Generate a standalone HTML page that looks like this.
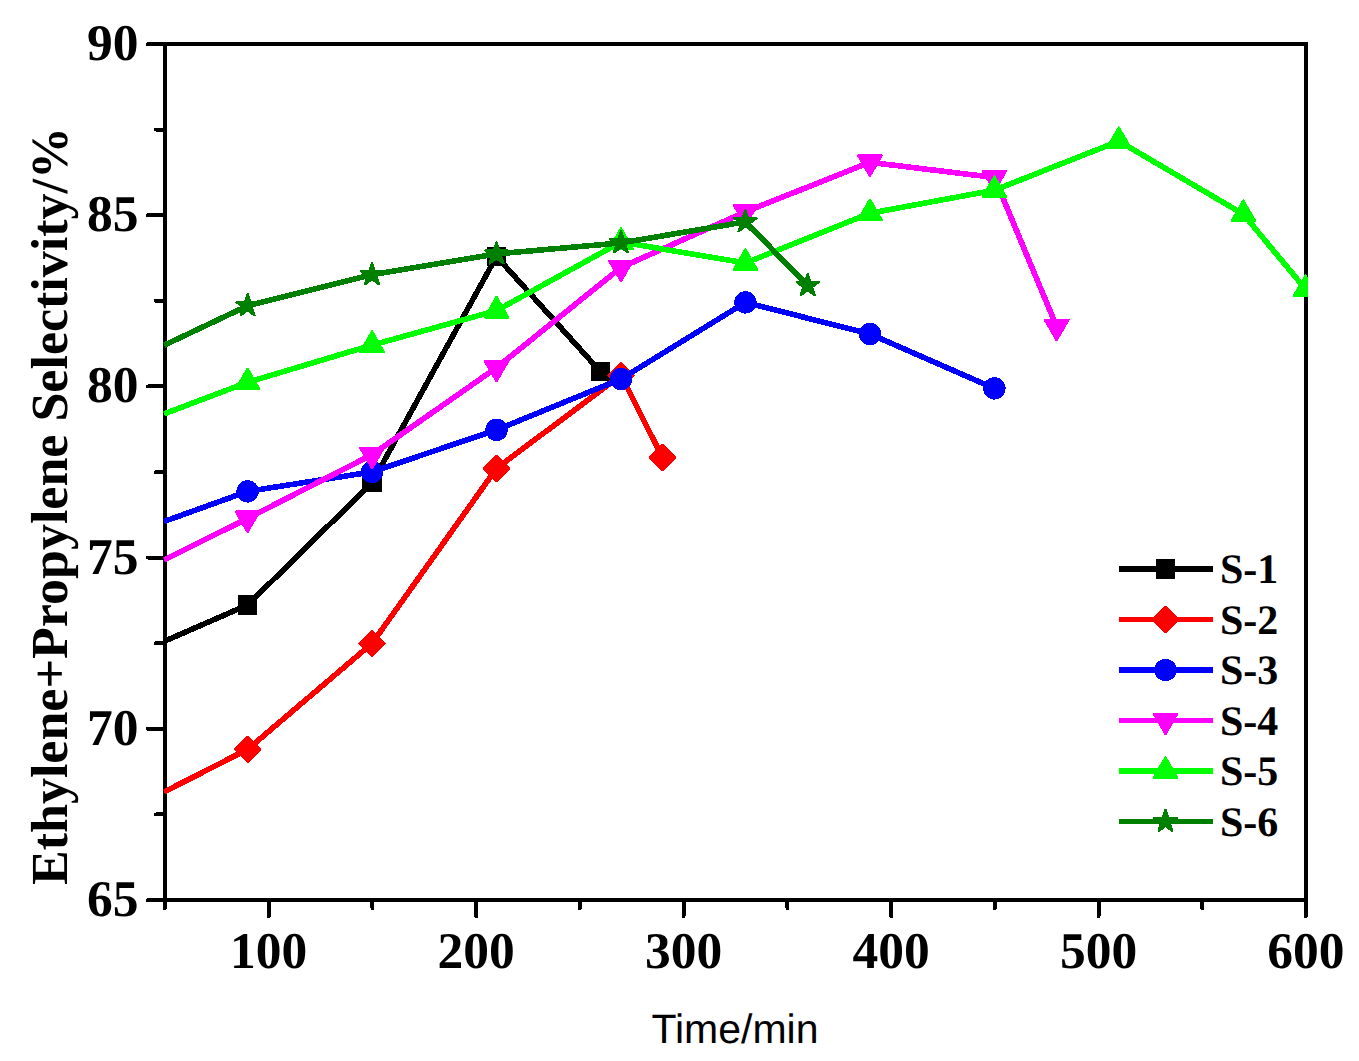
<!DOCTYPE html>
<html><head><meta charset="utf-8"><style>
html,body{margin:0;padding:0;background:#fff;}
body{width:1359px;height:1061px;overflow:hidden;}
svg{display:block;shape-rendering:crispEdges;}
text{text-rendering:geometricPrecision;}

</style></head><body>
<svg width="1359" height="1061" viewBox="0 0 1359 1061">
<defs><clipPath id="c"><rect x="163.5" y="42" width="1144.5" height="860"/></clipPath></defs>
<g stroke="#000" stroke-width="4" fill="none" stroke-linecap="round">
<rect x="165" y="44" width="1141" height="856" stroke-linecap="square"/>
<line x1="165" y1="44.00" x2="148" y2="44.00"/>
<line x1="165" y1="129.60" x2="156" y2="129.60"/>
<line x1="165" y1="215.20" x2="148" y2="215.20"/>
<line x1="165" y1="300.80" x2="156" y2="300.80"/>
<line x1="165" y1="386.40" x2="148" y2="386.40"/>
<line x1="165" y1="472.00" x2="156" y2="472.00"/>
<line x1="165" y1="557.60" x2="148" y2="557.60"/>
<line x1="165" y1="643.20" x2="156" y2="643.20"/>
<line x1="165" y1="728.80" x2="148" y2="728.80"/>
<line x1="165" y1="814.40" x2="156" y2="814.40"/>
<line x1="165" y1="900.00" x2="148" y2="900.00"/>
<line x1="165.00" y1="900" x2="165.00" y2="908"/>
<line x1="268.73" y1="900" x2="268.73" y2="916"/>
<line x1="372.45" y1="900" x2="372.45" y2="908"/>
<line x1="476.18" y1="900" x2="476.18" y2="916"/>
<line x1="579.90" y1="900" x2="579.90" y2="908"/>
<line x1="683.62" y1="900" x2="683.62" y2="916"/>
<line x1="787.35" y1="900" x2="787.35" y2="908"/>
<line x1="891.08" y1="900" x2="891.08" y2="916"/>
<line x1="994.80" y1="900" x2="994.80" y2="908"/>
<line x1="1098.53" y1="900" x2="1098.53" y2="916"/>
<line x1="1202.25" y1="900" x2="1202.25" y2="908"/>
<line x1="1305.97" y1="900" x2="1305.97" y2="916"/>
</g>
<g clip-path="url(#c)">
<polyline points="164.00,641.40 247.58,605.00 372.05,482.70 496.52,256.40 600.25,371.40" fill="none" stroke="#000000" stroke-width="5.6" stroke-linejoin="round" stroke-linecap="butt"/>
<rect x="237.83" y="595.25" width="19.5" height="19.5" fill="#000000"/>
<rect x="362.30" y="472.95" width="19.5" height="19.5" fill="#000000"/>
<rect x="486.77" y="246.65" width="19.5" height="19.5" fill="#000000"/>
<rect x="590.50" y="361.65" width="19.5" height="19.5" fill="#000000"/>
<polyline points="164.00,792.00 247.58,749.40 372.05,643.40 496.52,468.40 620.99,375.30 662.48,457.50" fill="none" stroke="#FF0000" stroke-width="5.6" stroke-linejoin="round" stroke-linecap="butt"/>
<path d="M247.58 736.95L260.03 749.40L247.58 761.85L235.13 749.40Z" fill="#FF0000" stroke="#FF0000" stroke-width="2.4" stroke-linejoin="round"/>
<path d="M372.05 630.95L384.50 643.40L372.05 655.85L359.60 643.40Z" fill="#FF0000" stroke="#FF0000" stroke-width="2.4" stroke-linejoin="round"/>
<path d="M496.52 455.95L508.97 468.40L496.52 480.85L484.07 468.40Z" fill="#FF0000" stroke="#FF0000" stroke-width="2.4" stroke-linejoin="round"/>
<path d="M620.99 362.85L633.44 375.30L620.99 387.75L608.54 375.30Z" fill="#FF0000" stroke="#FF0000" stroke-width="2.4" stroke-linejoin="round"/>
<path d="M662.48 445.05L674.93 457.50L662.48 469.95L650.03 457.50Z" fill="#FF0000" stroke="#FF0000" stroke-width="2.4" stroke-linejoin="round"/>
<polyline points="164.00,521.50 247.58,491.40 372.05,471.90 496.52,429.90 620.99,379.00 745.46,302.40 869.93,334.00 994.40,388.40" fill="none" stroke="#0000FF" stroke-width="5.6" stroke-linejoin="round" stroke-linecap="butt"/>
<circle cx="247.58" cy="491.40" r="11.2" fill="#0000FF"/>
<circle cx="372.05" cy="471.90" r="11.2" fill="#0000FF"/>
<circle cx="496.52" cy="429.90" r="11.2" fill="#0000FF"/>
<circle cx="620.99" cy="379.00" r="11.2" fill="#0000FF"/>
<circle cx="745.46" cy="302.40" r="11.2" fill="#0000FF"/>
<circle cx="869.93" cy="334.00" r="11.2" fill="#0000FF"/>
<circle cx="994.40" cy="388.40" r="11.2" fill="#0000FF"/>
<polyline points="164.00,560.00 247.58,518.40 372.05,454.70 496.52,367.70 620.99,267.50 745.46,211.80 869.93,162.30 994.40,177.50 1056.63,326.60" fill="none" stroke="#FF00FF" stroke-width="5.6" stroke-linejoin="round" stroke-linecap="butt"/>
<path d="M247.58 531.90L259.27 511.65L235.89 511.65Z" fill="#FF00FF" stroke="#FF00FF" stroke-width="2.4" stroke-linejoin="round"/>
<path d="M372.05 468.20L383.74 447.95L360.36 447.95Z" fill="#FF00FF" stroke="#FF00FF" stroke-width="2.4" stroke-linejoin="round"/>
<path d="M496.52 381.20L508.21 360.95L484.83 360.95Z" fill="#FF00FF" stroke="#FF00FF" stroke-width="2.4" stroke-linejoin="round"/>
<path d="M620.99 281.00L632.68 260.75L609.30 260.75Z" fill="#FF00FF" stroke="#FF00FF" stroke-width="2.4" stroke-linejoin="round"/>
<path d="M745.46 225.30L757.15 205.05L733.77 205.05Z" fill="#FF00FF" stroke="#FF00FF" stroke-width="2.4" stroke-linejoin="round"/>
<path d="M869.93 175.80L881.62 155.55L858.24 155.55Z" fill="#FF00FF" stroke="#FF00FF" stroke-width="2.4" stroke-linejoin="round"/>
<path d="M994.40 191.00L1006.09 170.75L982.71 170.75Z" fill="#FF00FF" stroke="#FF00FF" stroke-width="2.4" stroke-linejoin="round"/>
<path d="M1056.63 340.10L1068.33 319.85L1044.94 319.85Z" fill="#FF00FF" stroke="#FF00FF" stroke-width="2.4" stroke-linejoin="round"/>
<polyline points="164.00,413.90 247.58,382.30 372.05,345.10 496.52,310.60 620.99,242.00 745.46,263.00 869.93,213.20 994.40,190.20 1118.87,141.10 1243.34,214.20 1305.57,289.20" fill="none" stroke="#00FF00" stroke-width="5.6" stroke-linejoin="round" stroke-linecap="butt"/>
<path d="M247.58 368.80L259.27 389.05L235.89 389.05Z" fill="#00FF00" stroke="#00FF00" stroke-width="2.4" stroke-linejoin="round"/>
<path d="M372.05 331.60L383.74 351.85L360.36 351.85Z" fill="#00FF00" stroke="#00FF00" stroke-width="2.4" stroke-linejoin="round"/>
<path d="M496.52 297.10L508.21 317.35L484.83 317.35Z" fill="#00FF00" stroke="#00FF00" stroke-width="2.4" stroke-linejoin="round"/>
<path d="M620.99 228.50L632.68 248.75L609.30 248.75Z" fill="#00FF00" stroke="#00FF00" stroke-width="2.4" stroke-linejoin="round"/>
<path d="M745.46 249.50L757.15 269.75L733.77 269.75Z" fill="#00FF00" stroke="#00FF00" stroke-width="2.4" stroke-linejoin="round"/>
<path d="M869.93 199.70L881.62 219.95L858.24 219.95Z" fill="#00FF00" stroke="#00FF00" stroke-width="2.4" stroke-linejoin="round"/>
<path d="M994.40 176.70L1006.09 196.95L982.71 196.95Z" fill="#00FF00" stroke="#00FF00" stroke-width="2.4" stroke-linejoin="round"/>
<path d="M1118.87 127.60L1130.56 147.85L1107.18 147.85Z" fill="#00FF00" stroke="#00FF00" stroke-width="2.4" stroke-linejoin="round"/>
<path d="M1243.34 200.70L1255.03 220.95L1231.65 220.95Z" fill="#00FF00" stroke="#00FF00" stroke-width="2.4" stroke-linejoin="round"/>
<path d="M1305.57 275.70L1317.27 295.95L1293.88 295.95Z" fill="#00FF00" stroke="#00FF00" stroke-width="2.4" stroke-linejoin="round"/>
<polyline points="164.00,345.30 247.58,305.80 372.05,274.70 496.52,253.90 620.99,242.90 745.46,221.80 807.70,285.60" fill="none" stroke="#008000" stroke-width="5.6" stroke-linejoin="round" stroke-linecap="butt"/>
<path d="M247.58 294.20L250.18 302.22L258.61 302.22L251.79 307.17L254.40 315.18L247.58 310.23L240.76 315.18L243.37 307.17L236.55 302.22L244.98 302.22Z" fill="#008000" stroke="#008000" stroke-width="2.4" stroke-linejoin="round"/>
<path d="M372.05 263.10L374.65 271.12L383.08 271.12L376.26 276.07L378.87 284.08L372.05 279.13L365.23 284.08L367.84 276.07L361.02 271.12L369.45 271.12Z" fill="#008000" stroke="#008000" stroke-width="2.4" stroke-linejoin="round"/>
<path d="M496.52 242.30L499.12 250.32L507.55 250.32L500.73 255.27L503.34 263.28L496.52 258.33L489.70 263.28L492.31 255.27L485.49 250.32L493.92 250.32Z" fill="#008000" stroke="#008000" stroke-width="2.4" stroke-linejoin="round"/>
<path d="M620.99 231.30L623.59 239.32L632.02 239.32L625.20 244.27L627.81 252.28L620.99 247.33L614.17 252.28L616.78 244.27L609.96 239.32L618.39 239.32Z" fill="#008000" stroke="#008000" stroke-width="2.4" stroke-linejoin="round"/>
<path d="M745.46 210.20L748.06 218.22L756.49 218.22L749.67 223.17L752.28 231.18L745.46 226.23L738.64 231.18L741.25 223.17L734.43 218.22L742.86 218.22Z" fill="#008000" stroke="#008000" stroke-width="2.4" stroke-linejoin="round"/>
<path d="M807.70 274.00L810.30 282.02L818.73 282.02L811.91 286.97L814.51 294.98L807.70 290.03L800.88 294.98L803.48 286.97L796.66 282.02L805.09 282.02Z" fill="#008000" stroke="#008000" stroke-width="2.4" stroke-linejoin="round"/>
</g>
<g font-family="Liberation Serif" font-weight="bold" font-size="51.5" fill="#000">
<text x="138.5" y="60.00" text-anchor="end">90</text>
<text x="138.5" y="231.20" text-anchor="end">85</text>
<text x="138.5" y="402.40" text-anchor="end">80</text>
<text x="138.5" y="573.60" text-anchor="end">75</text>
<text x="138.5" y="744.80" text-anchor="end">70</text>
<text x="138.5" y="916.00" text-anchor="end">65</text>
<text x="268.73" y="967.5" text-anchor="middle">100</text>
<text x="476.18" y="967.5" text-anchor="middle">200</text>
<text x="683.62" y="967.5" text-anchor="middle">300</text>
<text x="891.08" y="967.5" text-anchor="middle">400</text>
<text x="1098.53" y="967.5" text-anchor="middle">500</text>
<text x="1305.97" y="967.5" text-anchor="middle">600</text>
</g>
<text transform="translate(67,885) rotate(-90)" font-family="Liberation Serif" font-weight="bold" font-size="52" fill="#000">Ethylene+Propylene Selectivity/%</text>
<text x="735" y="1043" text-anchor="middle" font-family="Liberation Sans" font-size="41" fill="#000">Time/min</text>
<line x1="1118.5" y1="569" x2="1212.5" y2="569" stroke="#000000" stroke-width="5.6" stroke-linecap="butt"/>
<rect x="1155.75" y="559.25" width="19.5" height="19.5" fill="#000000"/>
<text x="1220" y="583.00" font-family="Liberation Serif" font-weight="bold" font-size="42" fill="#000">S-1</text>
<line x1="1118.5" y1="619.5" x2="1212.5" y2="619.5" stroke="#FF0000" stroke-width="5.6" stroke-linecap="butt"/>
<path d="M1165.50 607.05L1177.95 619.50L1165.50 631.95L1153.05 619.50Z" fill="#FF0000" stroke="#FF0000" stroke-width="2.4" stroke-linejoin="round"/>
<text x="1220" y="633.50" font-family="Liberation Serif" font-weight="bold" font-size="42" fill="#000">S-2</text>
<line x1="1118.5" y1="670" x2="1212.5" y2="670" stroke="#0000FF" stroke-width="5.6" stroke-linecap="butt"/>
<circle cx="1165.50" cy="670.00" r="11.2" fill="#0000FF"/>
<text x="1220" y="684.00" font-family="Liberation Serif" font-weight="bold" font-size="42" fill="#000">S-3</text>
<line x1="1118.5" y1="720.5" x2="1212.5" y2="720.5" stroke="#FF00FF" stroke-width="5.6" stroke-linecap="butt"/>
<path d="M1165.50 734.00L1177.19 713.75L1153.81 713.75Z" fill="#FF00FF" stroke="#FF00FF" stroke-width="2.4" stroke-linejoin="round"/>
<text x="1220" y="734.50" font-family="Liberation Serif" font-weight="bold" font-size="42" fill="#000">S-4</text>
<line x1="1118.5" y1="771" x2="1212.5" y2="771" stroke="#00FF00" stroke-width="5.6" stroke-linecap="butt"/>
<path d="M1165.50 757.50L1177.19 777.75L1153.81 777.75Z" fill="#00FF00" stroke="#00FF00" stroke-width="2.4" stroke-linejoin="round"/>
<text x="1220" y="785.00" font-family="Liberation Serif" font-weight="bold" font-size="42" fill="#000">S-5</text>
<line x1="1118.5" y1="821.5" x2="1212.5" y2="821.5" stroke="#008000" stroke-width="5.6" stroke-linecap="butt"/>
<path d="M1165.50 809.90L1168.10 817.92L1176.53 817.92L1169.71 822.87L1172.32 830.88L1165.50 825.93L1158.68 830.88L1161.29 822.87L1154.47 817.92L1162.90 817.92Z" fill="#008000" stroke="#008000" stroke-width="2.4" stroke-linejoin="round"/>
<text x="1220" y="835.50" font-family="Liberation Serif" font-weight="bold" font-size="42" fill="#000">S-6</text>
</svg>
</body></html>
